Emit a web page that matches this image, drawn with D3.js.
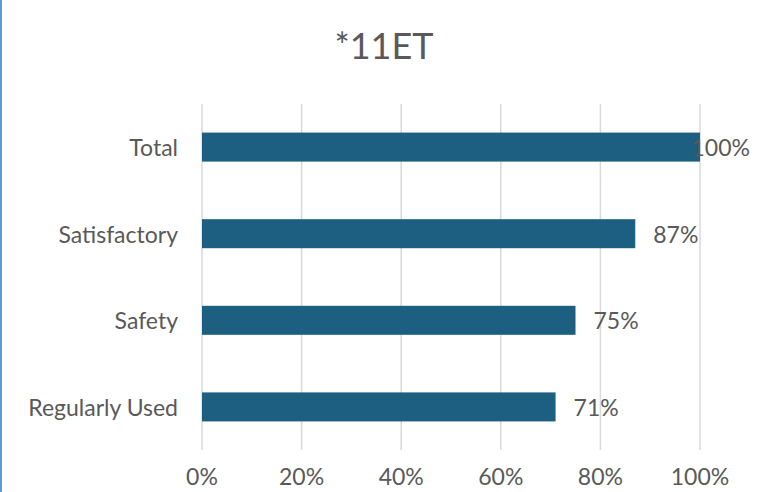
<!DOCTYPE html>
<meta charset="utf-8">
<style>
  body { margin: 0; background: #fff; }
  text { font-family: Lato, "Open Sans", sans-serif; fill: #595959; }
  .grid line { stroke: #d9d9d9; stroke-width: 1.5px; }
</style>
<svg width="760" height="492"></svg>
<script src="https://d3js.org/d3.v7.min.js"></script>
<script>

  var categories = ["Total", "Satisfactory", "Safety", "Regularly Used"];
  var values = [100, 87, 75, 71];
  var ticks = [0, 20, 40, 60, 80, 100];
  var title = "*11ET";

  var svg = d3.select("svg"),
      width = +svg.attr("width"),
      height = +svg.attr("height"),
      margin = {top: 104, right: 60, bottom: 42, left: 202};

  var x = d3.scaleLinear()
      .domain([0, 100])
      .range([margin.left, width - margin.right]);

  var y = d3.scaleBand()
      .domain(categories)
      .range([margin.top, height - margin.bottom])
      .paddingInner(0.665)
      .paddingOuter(0.33);

  // left border of the chart frame
  svg.append("rect")
      .attr("x", 0).attr("y", 0)
      .attr("width", 2).attr("height", height)
      .attr("fill", "#5b9bd5");

  svg.append("text")
      .attr("x", 384)
      .attr("y", 45)
      .attr("text-anchor", "middle")
      .attr("dominant-baseline", "central")
      .style("font-size", "36px")
      .text(title);

  svg.append("g")
      .attr("class", "grid")
      .selectAll("line")
      .data(ticks)
      .enter().append("line")
      .attr("x1", function(d) { return x(d); })
      .attr("x2", function(d) { return x(d); })
      .attr("y1", margin.top)
      .attr("y2", height - margin.bottom);

  svg.append("g")
      .selectAll("text")
      .data(ticks)
      .enter().append("text")
      .attr("x", function(d) { return x(d); })
      .attr("y", 476)
      .attr("text-anchor", "middle")
      .attr("dominant-baseline", "central")
      .style("font-size", "23px")
      .text(function(d) { return d + "%"; });

  svg.append("g")
      .selectAll("rect")
      .data(categories)
      .enter().append("rect")
      .attr("x", x(0))
      .attr("y", function(d) { return y(d); })
      .attr("width", function(d, i) { return x(values[i]) - x(0); })
      .attr("height", y.bandwidth())
      .attr("fill", "#1d5f80");

  svg.append("g")
      .selectAll("text")
      .data(categories)
      .enter().append("text")
      .attr("x", margin.left - 24)
      .attr("y", function(d) { return y(d) + y.bandwidth() / 2; })
      .attr("text-anchor", "end")
      .attr("dominant-baseline", "central")
      .style("font-size", "23px")
      .text(function(d) { return d; });

  // value labels, kept inside the chart area like Excel does
  svg.append("g")
      .selectAll("text")
      .data(categories)
      .enter().append("text")
      .attr("y", function(d) { return y(d) + y.bandwidth() / 2; })
      .attr("dominant-baseline", "central")
      .style("font-size", "23px")
      .text(function(d, i) { return values[i] + "%"; })
      .attr("x", function(d, i) {
        var w = this.getComputedTextLength();
        return Math.min(x(values[i]) + 18, width - 10 - w);
      });

</script>
